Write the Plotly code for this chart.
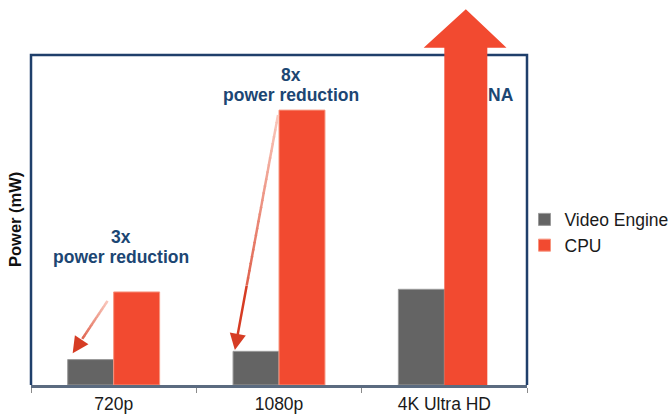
import plotly.graph_objects as go

# ---- data ----
categories = ["720p", "1080p", "4K Ultra HD"]
video_engine = [7.7, 10.2, 29.0]
cpu = [28.2, 83.3, None]          # 4K CPU = NA (drawn as an off-scale arrow)
series_names = ["Video Engine", "CPU"]
y_max = 100

# NA arrow (data units: x in category index, y in axis units)
na_shaft = [2.0, 2.26]
na_head = [1.875, 2.376]
na_tip_x = 2.13
na_head_base = 102.2
na_tip = 113.9

# reduction arrows: (tail_x, tail_y, tip_x, tip_y)
red_arrows = [(-0.037, 25.5, -0.248, 9.6), (0.994, 81.8, 0.733, 10.6)]
red_factor = ["3x", "8x"]
red_text = "power reduction"
red_label_x = [0.043, 1.075]
red_factor_y = [44.9, 93.9]
red_text_y = [38.7, 87.9]

GRAY = "#646464"
RED = "#F24A30"
NAVY = "#1c4673"
FONT = "Liberation Sans, Arial, sans-serif"

L, R, T, B = 31, 144, 55, 31
W, H = 671, 416

fig = go.Figure()
fig.add_bar(x=categories, y=video_engine, name=series_names[0],
            marker=dict(color=GRAY, line=dict(color="#9a9a9a", width=1)))
fig.add_bar(x=categories, y=cpu, name=series_names[1],
            marker=dict(color=RED, line=dict(color="#f7957f", width=1)))

shapes = []
# frame (left, top, right)
shapes.append(dict(type="path", xref="paper", yref="paper",
                   path="M 0,0 L 0,1 L 1,1 L 1,0",
                   line=dict(color="#1f3f6b", width=2.5), layer="above"))
# NA arrow
p = [(na_shaft[0], 0), (na_shaft[0], na_head_base), (na_head[0], na_head_base),
     (na_tip_x, na_tip), (na_head[1], na_head_base), (na_shaft[1], na_head_base),
     (na_shaft[1], 0)]
path = "M " + " L ".join(f"{x},{y / y_max}" for x, y in p) + " Z"
shapes.append(dict(type="path", xref="x", yref="paper", path=path,
                   fillcolor=RED, line=dict(width=0), layer="above"))


def lerp(a, b, t):
    return a + (b - a) * t


c0 = (250, 200, 188)
c1 = (214, 60, 36)
annotations = []
N = 24
CUT = 0.72
for (tx, ty, hx, hy) in red_arrows:
    for i in range(N):
        t0 = i / N * CUT
        t1 = (i + 1) / N * CUT
        col = tuple(int(lerp(c0[k], c1[k], (t0 + t1) / 2)) for k in range(3))
        shapes.append(dict(type="line", xref="x", yref="y",
                           x0=lerp(tx, hx, t0), y0=lerp(ty, hy, t0),
                           x1=lerp(tx, hx, t1 + 0.005), y1=lerp(ty, hy, t1 + 0.005),
                           line=dict(color=f"rgb{col}", width=2.5), layer="above"))
    annotations.append(dict(x=hx, y=hy, ax=lerp(tx, hx, CUT), ay=lerp(ty, hy, CUT),
                            xref="x", yref="y", axref="x", ayref="y", text="",
                            showarrow=True, arrowhead=2, arrowsize=1.3,
                            arrowwidth=2.5, arrowcolor=f"rgb{c1}", standoff=0))

for fx, x, fy, ty in zip(red_factor, red_label_x, red_factor_y, red_text_y):
    annotations.append(dict(x=x, y=fy, xref="x", yref="y", text=f"<b>{fx}</b>",
                            showarrow=False, font=dict(family=FONT, size=17.5, color=NAVY)))
    annotations.append(dict(x=x, y=ty, xref="x", yref="y", text=f"<b>{red_text}</b>",
                            showarrow=False, font=dict(family=FONT, size=17.5, color=NAVY)))
annotations.append(dict(x=2.34, y=88, xref="x", yref="y", text="<b>NA</b>",
                        showarrow=False, font=dict(family=FONT, size=17.5, color=NAVY)))
annotations.append(dict(x=(15 - L) / (W - L - R), y=0.5, xref="paper", yref="paper",
                        xanchor="center", text="<b>Power (mW)</b>", textangle=-90,
                        showarrow=False,
                        font=dict(family=FONT, size=16.5, color="#111111")))

fig.update_layout(
    template="none",
    width=W, height=H,
    margin=dict(l=L, r=R, t=T, b=B, autoexpand=False),
    paper_bgcolor="white", plot_bgcolor="white",
    barmode="group", bargap=0.444, bargroupgap=0,
    font=dict(family=FONT, size=17.5, color="#1a1a1a"),
    showlegend=True,
    legend=dict(x=(564.5 - 40) / W, xanchor="left", xref="container",
                y=1 - 232.5 / H, yanchor="middle", yref="container",
                font=dict(family=FONT, size=17.5, color="#1a1a1a"),
                bgcolor="rgba(0,0,0,0)", traceorder="normal", borderwidth=0),
    shapes=shapes, annotations=annotations,
    xaxis=dict(type="category", range=[-0.5, 2.5], showline=True, linecolor="#5b6b80",
               linewidth=2.5, ticks="outside", tickson="boundaries", ticklen=5,
               tickcolor="#8a8a8a", tickwidth=1, showgrid=False, zeroline=False,
               automargin=False, ticklabelstandoff=1,
               tickfont=dict(family=FONT, size=17.5, color="#1a1a1a")),
    yaxis=dict(range=[0, y_max], showticklabels=False, showgrid=False, zeroline=False,
               showline=False, ticks="", automargin=False),
)

fig.write_html("out.html", config={"displayModeBar": False},
               post_script="document.body.style.margin='0';document.body.style.overflow='hidden';")
